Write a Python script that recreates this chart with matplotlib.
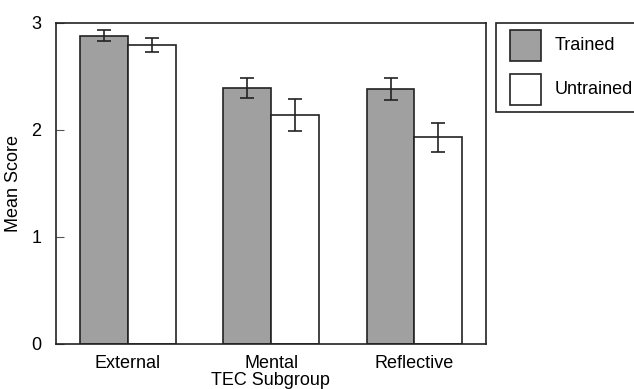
import numpy as np
import matplotlib.pyplot as plt
from matplotlib.patches import Rectangle

# data
subgroups = ['External', 'Mental', 'Reflective']
trained = [2.88, 2.39, 2.38]
trained_err = [0.05, 0.09, 0.10]
untrained = [2.79, 2.14, 1.93]
untrained_err = [0.065, 0.15, 0.135]
series_names = ['Trained', 'Untrained']

plt.rcParams['font.family'] = ['Liberation Sans', 'DejaVu Sans']
plt.rcParams['font.size'] = 13

fig = plt.figure(figsize=(6.34, 3.89), dpi=100)
W, H = 634, 389
ax = fig.add_axes([55.5 / W, 1 - 344 / H, (486 - 55.5) / W, (344 - 22.7) / H])

x = np.arange(len(subgroups))
width = 0.333

ax.bar(x - width / 2, trained, width, color='#a0a0a0', edgecolor='#222222',
       linewidth=1.2, yerr=trained_err,
       error_kw=dict(ecolor='#222222', elinewidth=1.2, capsize=5, capthick=1.2))
ax.bar(x + width / 2, untrained, width, color='white', edgecolor='#222222',
       linewidth=1.2, yerr=untrained_err,
       error_kw=dict(ecolor='#222222', elinewidth=1.2, capsize=5, capthick=1.2))

ax.set_xlim(-0.505, 2.5)
ax.set_ylim(0, 3)
ax.set_yticks([0, 1, 2, 3])
ax.set_xticks(x)
ax.set_xticklabels(subgroups)
ax.tick_params(axis='y', direction='in', length=6, width=0.8, color='#555555', pad=10)
ax.tick_params(axis='x', length=0, pad=8)
for s in ax.spines.values():
    s.set_linewidth(1.2)
    s.set_color('#222222')

ax.set_ylabel('Mean Score')
ax.yaxis.set_label_coords(-0.078, 0.5)
ax.set_xlabel('TEC Subgroup', va='top')
ax.xaxis.set_label_coords(0.5, -0.088)

# legend box drawn by hand to match the reference layout
fig.patches.append(Rectangle((495.7 / W, 1 - 112.3 / H), 150 / W, (112.3 - 22.7) / H,
                             transform=fig.transFigure, facecolor='white',
                             edgecolor='#222222', linewidth=1.2))
fills = ['#a0a0a0', 'white']
tops = [30, 74]
for name, fc, top in zip(series_names, fills, tops):
    fig.patches.append(Rectangle((510.3 / W, 1 - (top + 30.5) / H), 30.7 / W, 30.5 / H,
                                 transform=fig.transFigure, facecolor=fc,
                                 edgecolor='#222222', linewidth=1.2))
    fig.text(555 / W, 1 - (top + 15) / H, name, ha='left', va='center')

fig.savefig('out.png', dpi=100)
